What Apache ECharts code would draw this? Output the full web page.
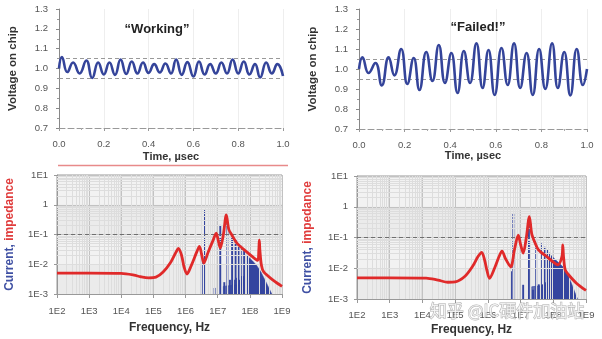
<!DOCTYPE html>
<html><head><meta charset="utf-8">
<script src="https://cdn.jsdelivr.net/npm/echarts@6/dist/echarts.min.js"></script>
<style>html,body{margin:0;padding:0;background:#fff}#c{width:602px;height:339px}</style>
</head><body><div id="c"></div>
<script>
// ---------- DATA ----------
const timeTickLabels = ['0.0','0.2','0.4','0.6','0.8','1.0'];
const voltTickLabels = ['0.7','0.8','0.9','1.0','1.1','1.2','1.3'];
const freqTickLabels = ['1E2','1E3','1E4','1E5','1E6','1E7','1E8','1E9'];
const impTickLabels = ['1E-3','1E-2','1E-1','1','1E1'];

const timeWorking = [0,0.013,0.037,0.063,0.092,0.122,0.148,0.175,0.2,0.225,0.25,0.275,0.3,0.325,0.35,0.375,0.4,0.425,0.45,0.475,0.5,0.523,0.548,0.573,0.6,0.625,0.65,0.675,0.7,0.725,0.75,0.775,0.8,0.825,0.85,0.875,0.898,0.925,0.95,0.975,1.0];
const voltWorking = [1.0,1.058,0.982,1.03,0.975,1.04,0.952,1.03,0.97,1.03,0.968,1.045,0.972,1.035,0.975,1.03,0.978,1.022,0.98,1.025,0.975,1.045,0.968,1.032,0.96,1.035,0.97,1.022,0.975,1.03,0.975,1.045,0.975,1.035,0.97,1.022,0.955,1.03,0.975,1.022,0.962];

const timeFailed = [0,0.015,0.042,0.072,0.1,0.13,0.155,0.185,0.212,0.24,0.265,0.295,0.322,0.35,0.377,0.405,0.432,0.46,0.487,0.515,0.542,0.568,0.595,0.625,0.652,0.68,0.707,0.735,0.762,0.79,0.817,0.847,0.872,0.9,0.927,0.955,0.982,1.0];
const voltFailed = [1.0,1.058,0.98,1.03,0.918,1.058,0.968,1.1,0.925,1.055,0.895,1.085,0.94,1.12,0.93,1.08,0.88,1.09,0.93,1.128,0.905,1.095,0.87,1.105,0.92,1.128,0.905,1.08,0.87,1.1,0.9,1.128,0.905,1.085,0.868,1.1,0.92,1.0];

const impFreqW = [1e2,1e3,1e4,2.5e4,4e4,7e4,1.2e5,2e5,3.5e5,5e5,6e5,7.5e5,9e5,1.1e6,1.5e6,2.2e6,2.7e6,3.2e6,3.7e6,5e6,7e6,9e6,1.05e7,1.2e7,1.5e7,1.85e7,2.2e7,2.7e7,4e7,7.4e7,1.2e8,1.75e8,1.9e8,1.97e8,2.05e8,2.3e8,2.7e8,5.5e8,1e9];
const impValW  = [0.005,0.005,0.0049,0.0043,0.0038,0.0035,0.0037,0.0055,0.012,0.025,0.034,0.02,0.008,0.0047,0.009,0.025,0.04,0.02,0.011,0.025,0.06,0.11,0.06,0.035,0.1,0.46,0.15,0.1,0.05,0.028,0.018,0.0135,0.03,0.065,0.03,0.009,0.0055,0.0028,0.0018];

const impFreqF = [1e2,1e3,1.3e4,3e4,6e4,1e5,2e5,3.5e5,5e5,6.5e5,8e5,9.5e5,1.12e6,1.6e6,2.2e6,2.7e6,3.5e6,5e6,6.5e6,8.5e6,1e7,1.2e7,1.5e7,1.86e7,2.2e7,2.8e7,3.5e7,6.3e7,1.4e8,1.85e8,1.95e8,2.05e8,2.3e8,2.8e8,5.2e8,1e9];
const impValF  = [0.0049,0.0049,0.0048,0.0041,0.0035,0.0036,0.0055,0.012,0.024,0.033,0.018,0.008,0.0047,0.01,0.024,0.036,0.02,0.011,0.04,0.12,0.06,0.031,0.1,0.48,0.13,0.065,0.04,0.024,0.013,0.025,0.057,0.025,0.009,0.0065,0.0032,0.0019];

const spikeFreqW = [3.2e6,4.0e6,8.0e6,1.2e7,1.6e7,2.0e7,2.4e7,2.8e7,3.2e7,3.6e7,4.0e7,4.4e7,4.8e7,5.2e7,5.6e7,6.0e7,6.4e7,6.8e7,7.2e7,7.6e7,8.0e7,8.4e7,8.8e7];
const spikeAmpW  = [0.023,0.7,0.0016,0.21,0.0025,0.25,0.003,0.085,0.003,0.066,0.0035,0.052,0.003,0.042,0.004,0.034,0.004,0.028,0.004,0.023,0.004,0.019,0.004];
const denseFreqW = [8.8e7,8.8e7,1.2e8,1.6e8,2.2e8,3.3e8,4e8,4.8e8];
const denseAmpW  = [0.001,0.018,0.013,0.0093,0.0055,0.0023,0.0015,0.001];
const floorFreqW = [1.5e7,1.5e7,5e7,9e7];
const floorAmpW  = [0.001,0.0018,0.0021,0.0025];

const spikeFreqF = [5.1e6,6.0e6,1.2e7,1.8e7,2.4e7,3.0e7,3.6e7,4.2e7,4.8e7,5.4e7,6.0e7,6.6e7,7.2e7,7.8e7,8.4e7,9.0e7];
const spikeAmpF  = [0.008,0.61,0.0029,0.3,0.002,0.083,0.003,0.065,0.003,0.05,0.0035,0.04,0.0035,0.032,0.004,0.026];
const denseFreqF = [9.6e7,9.6e7,1.3e8,2e8,2.7e8,3.6e8,4.5e8,5.5e8];
const denseAmpF  = [0.001,0.023,0.017,0.011,0.0065,0.0032,0.0017,0.001];
const floorFreqF = [2.2e7,2.2e7,6e7,1e8];
const floorAmpF  = [0.001,0.0025,0.0028,0.003];

// ---------- CHART ----------
const FONT = '"Liberation Sans", Arial, sans-serif';
const BLUE = '#34449a';
const SPEC = '#34459f';
const RED = '#e02a2a';
const pairs = (xs, ys) => xs.map((x, i) => [x, ys[i]]);
const logExp = v => Math.round(Math.log10(v));

const xMinor = [], yMinor = [];
for (let e = 2; e < 9; e++) for (let k = 2; k < 10; k++) xMinor.push(k * Math.pow(10, e));
for (let e = -3; e < 1; e++) for (let k = 2; k < 10; k++) yMinor.push(k * Math.pow(10, e));

const labelStyle = {color: '#555', fontSize: 9.5, fontFamily: FONT};
const nameStyleX = (s) => ({color: '#333', fontSize: s, fontWeight: 'bold', fontFamily: FONT});

function topX(idx, gap) {
  return {type: 'value', gridIndex: idx, min: 0, max: 1, interval: 0.2,
    name: 'Time, \u00b5sec', nameLocation: 'middle', nameGap: gap, nameTextStyle: nameStyleX(11),
    axisLine: {show: true, onZero: false, lineStyle: {color: '#999', type: [6, 3]}},
    axisTick: {show: true, length: 3, lineStyle: {color: '#999'}},
    minorTick: {show: true, splitNumber: 2, length: 2, lineStyle: {color: '#aaa'}},
    splitLine: {show: true, lineStyle: {color: '#eeeeee'}},
    axisLabel: Object.assign({margin: 11, formatter: v => timeTickLabels[Math.round(v / 0.2)]}, labelStyle)};
}
function topY(idx) {
  return {type: 'value', gridIndex: idx, min: 0.7, max: 1.3, interval: 0.1,
    name: 'Voltage on chip', nameLocation: 'middle', nameGap: 40, nameTextStyle: nameStyleX(11.5),
    axisLine: {show: true, lineStyle: {color: '#888'}},
    axisTick: {show: true, length: 3, lineStyle: {color: '#888'}},
    minorTick: {show: true, splitNumber: 2, length: 2, lineStyle: {color: '#999'}},
    splitLine: {show: false},
    axisLabel: Object.assign({margin: 11, formatter: v => voltTickLabels[Math.round((v - 0.7) / 0.1)]}, labelStyle)};
}
function botX(idx, gap, lm) {
  return {type: 'log', logBase: 10, gridIndex: idx, min: 1e2, max: 1e9, splitNumber: 7,
    name: 'Frequency, Hz', nameLocation: 'middle', nameGap: gap, nameTextStyle: nameStyleX(12),
    axisLine: {show: true, onZero: false, lineStyle: {color: '#999'}},
    axisTick: {show: true, length: 4, lineStyle: {color: '#999'}},
    splitLine: {show: true, lineStyle: {color: '#c2c2c2'}},
    axisLabel: Object.assign({margin: lm, formatter: v => freqTickLabels[logExp(v) - 2]}, labelStyle)};
}
function botY(idx, gap) {
  return {type: 'log', logBase: 10, gridIndex: idx, min: 1e-3, max: 10, splitNumber: 4,
    name: '{b|Current,} {r|impedance}', nameLocation: 'middle', nameGap: gap,
    nameTextStyle: {rich: {
      b: {color: '#3f50a3', fontSize: 12, fontWeight: 'bold', fontFamily: FONT},
      r: {color: '#e03c3c', fontSize: 12, fontWeight: 'bold', fontFamily: FONT}}},
    axisLine: {show: true, lineStyle: {color: '#999'}},
    axisTick: {show: true, length: 3, lineStyle: {color: '#999'}},
    splitLine: {show: true, lineStyle: {color: '#c2c2c2'}},
    splitArea: {show: true, areaStyle: {color: ['#ebebeb', '#f2f2f2']}},
    axisLabel: Object.assign({margin: 9, formatter: v => impTickLabels[logExp(v) + 3]}, labelStyle)};
}
function gridLines(idx) {
  const minor = {color: '#dddddd', width: 1, type: 'solid'};
  return {type: 'line', xAxisIndex: idx, yAxisIndex: idx, data: [], silent: true, z: 1,
    markLine: {silent: true, symbol: ['none', 'none'], animation: false, label: {show: false},
      emphasis: {disabled: true},
      data: [
        ...xMinor.map(v => ({xAxis: v, lineStyle: minor})),
        ...yMinor.map(v => ({yAxis: v, lineStyle: minor})),
        {yAxis: 0.1, lineStyle: {color: '#6f6f6f', width: 1, type: [4, 3]}}
      ]}};
}
function spikes(idx, fs, as) {
  return {type: 'custom', xAxisIndex: idx, yAxisIndex: idx, z: 3, silent: true,
    data: pairs(fs, as),
    renderItem: (params, api) => {
      const p0 = api.coord([api.value(0), 1e-3]);
      const p1 = api.coord([api.value(0), api.value(1)]);
      return {type: 'line', shape: {x1: p0[0], y1: p0[1], x2: p1[0], y2: p1[1]},
        style: {stroke: SPEC, lineWidth: 1.9}};
    }};
}
function area(idx, fs, as, op) {
  return {type: 'line', xAxisIndex: idx, yAxisIndex: idx, z: 3, silent: true, symbol: 'none',
    data: pairs(fs, as), lineStyle: {width: 0.6, color: SPEC},
    areaStyle: {origin: 'start', color: SPEC, opacity: op}};
}
function redLine(idx, fs, vs) {
  return {type: 'line', xAxisIndex: idx, yAxisIndex: idx, z: 5, silent: true, symbol: 'none',
    smooth: 0.3, data: pairs(fs, vs), lineStyle: {width: 2.8, color: RED}};
}
function voltLine(idx, ts, vs) {
  return {type: 'line', xAxisIndex: idx, yAxisIndex: idx, z: 5, silent: true, symbol: 'none',
    smooth: 0.5, data: pairs(ts, vs), lineStyle: {width: 2.6, color: BLUE},
    markLine: {silent: true, symbol: ['none', 'none'], animation: false, label: {show: false},
      lineStyle: {color: '#999', width: 1, type: [4, 3]},
      data: [{yAxis: 1.05}, {yAxis: 0.95}]}};
}

const chart = echarts.init(document.getElementById('c'), null, {renderer: 'canvas', width: 602, height: 339});
chart.setOption({
  animation: false,
  backgroundColor: '#ffffff',
  grid: [
    {left: 59, top: 9, width: 224, height: 119, outerBoundsMode: 'none'},
    {left: 359, top: 9, width: 228, height: 120, outerBoundsMode: 'none'},
    {left: 57, top: 175, width: 225, height: 119, outerBoundsMode: 'none', show: true, backgroundColor: '#ececec', borderColor: '#999', borderWidth: 1},
    {left: 357, top: 176, width: 229, height: 123, outerBoundsMode: 'none', show: true, backgroundColor: '#ececec', borderColor: '#999', borderWidth: 1}
  ],
  xAxis: [topX(0, 23), topX(1, 21), botX(2, 28, 12), botX(3, 25, 11)],
  yAxis: [topY(0), topY(1), botY(2, 41), botY(3, 43)],
  series: [
    voltLine(0, timeWorking, voltWorking),
    voltLine(1, timeFailed, voltFailed),
    gridLines(2), gridLines(3),
    area(2, floorFreqW, floorAmpW, 0.75), area(3, floorFreqF, floorAmpF, 0.75),
    area(2, denseFreqW, denseAmpW, 1), area(3, denseFreqF, denseAmpF, 1),
    spikes(2, spikeFreqW, spikeAmpW), spikes(3, spikeFreqF, spikeAmpF),
    redLine(2, impFreqW, impValW), redLine(3, impFreqF, impValF)
  ],
  graphic: [
    {type: 'text', x: 157, y: 29, z: 100, style: {text: '\u201cWorking\u201d', font: 'bold 13px ' + FONT, fill: '#222', align: 'center', verticalAlign: 'middle'}},
    {type: 'text', x: 478, y: 27, z: 100, style: {text: '\u201cFailed!\u201d', font: 'bold 13px ' + FONT, fill: '#222', align: 'center', verticalAlign: 'middle'}},
    {type: 'line', z: 100, shape: {x1: 58, y1: 165.5, x2: 288, y2: 165.5}, style: {stroke: '#e88a8a', lineWidth: 1.5}},
    {type: 'text', x: 507, y: 311, z: 100, style: {text: '\u77e5\u4e4e @IC\u786c\u4ef6\u52a0\u6cb9\u7ad9', font: '17px "Noto Sans CJK SC", sans-serif', fill: 'rgba(255,255,255,0.75)', stroke: 'rgba(110,110,110,0.55)', lineWidth: 1, align: 'center', verticalAlign: 'middle'}}
  ]
});
</script></body></html>
